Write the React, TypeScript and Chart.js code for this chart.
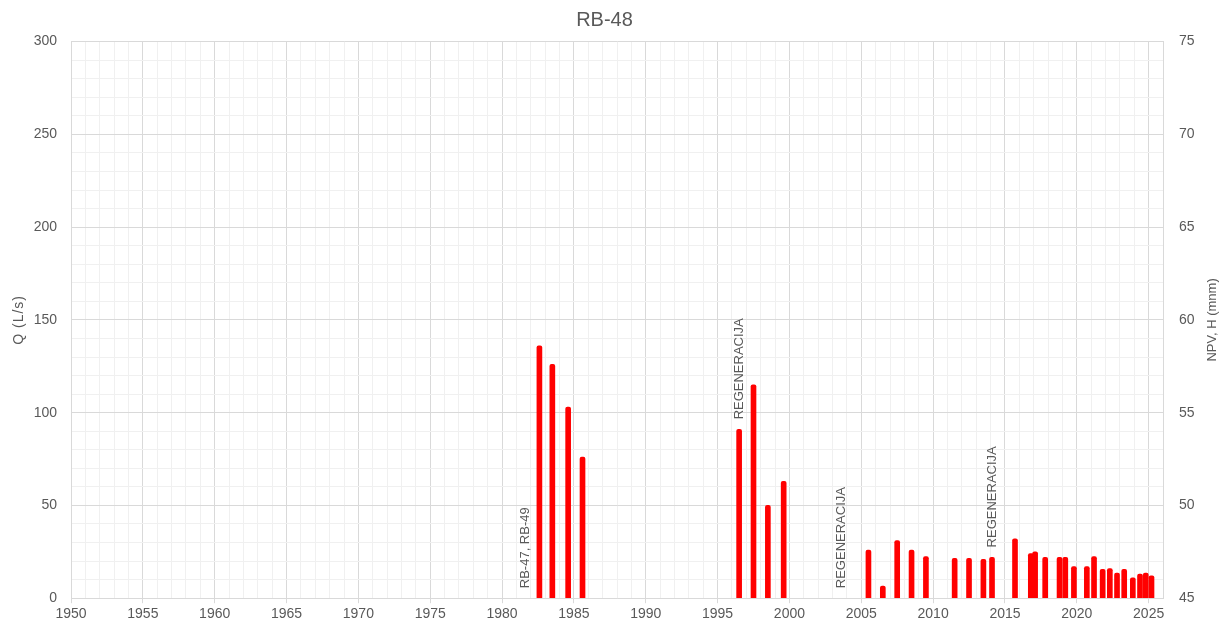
import React, { useEffect, useRef } from "react";
import { Chart, registerables } from "chart.js";
Chart.register(...registerables);

const years = [1982.6, 1983.5, 1984.6, 1985.6, 1996.5, 1997.5, 1998.5, 1999.6, 2005.5, 2006.5, 2007.5, 2008.5, 2009.5, 2011.5, 2012.5, 2013.5, 2014.1, 2015.7, 2016.8, 2017.1, 2017.8, 2018.8, 2019.2, 2019.8, 2020.7, 2021.2, 2021.8, 2022.3, 2022.8, 2023.3, 2023.9, 2024.4, 2024.8, 2025.2];
const flows = [136, 126, 103, 76, 91, 115, 50, 63, 26, 6.5, 31, 26, 22.5, 21.5, 21.5, 21, 22, 32, 24, 25, 22, 22, 22, 17, 17, 22.5, 15.5, 16, 13.5, 15.5, 11, 13, 13.5, 12];

const noteYears = [1981.6, 1996.5, 2003.6, 2014.1];
const noteValues = [0, 91, 0, 22];
const noteTexts = ["RB-47, RB-49", "REGENERACIJA", "REGENERACIJA", "REGENERACIJA"];

const FONT = "'Liberation Sans', Arial, sans-serif";
const TEXT = "#595959";
const TITLE = "RB-48";
const LEFT_TITLE = "Q (L/s)";
const RIGHT_TITLE = "NPV, H (mnm)";

function drawVertical(ctx: any, text: string, x: number, y: number, align: string) {
  ctx.save();
  ctx.translate(x, y);
  ctx.rotate(-Math.PI / 2);
  ctx.textAlign = align;
  ctx.fillText(text, 0, 0);
  ctx.restore();
}

const notesPlugin = {
  id: "notes",
  afterDatasetsDraw(chart: any) {
    const { ctx, scales } = chart;
    ctx.save();
    ctx.font = `13px ${FONT}`;
    ctx.fillStyle = TEXT;
    ctx.textBaseline = "middle";
    noteYears.forEach((yr, i) => {
      const x = scales.x.getPixelForValue(yr);
      const y = scales.y.getPixelForValue(noteValues[i]) - 10;
      drawVertical(ctx, noteTexts[i], x, y, "left");
    });
    const cy = (scales.y.top + scales.y.bottom) / 2;
    drawVertical(ctx, RIGHT_TITLE, chart.width - 17, cy, "center");
    ctx.font = `14px ${FONT}`;
    ctx.letterSpacing = "1px";
    drawVertical(ctx, LEFT_TITLE, 19, cy, "center");
    ctx.letterSpacing = "0px";
    ctx.font = `20px ${FONT}`;
    ctx.textAlign = "center";
    ctx.fillText(TITLE, 604.5, 20);
    ctx.restore();
  },
};

export default function App() {
  const ref = useRef<HTMLCanvasElement>(null);
  useEffect(() => {
    document.body.style.margin = "0";
    const chart = new Chart(ref.current!, {
      type: "bar",
      data: {
        datasets: [
          {
            label: "Q",
            data: years.map((x, i) => ({ x, y: flows[i] })),
            backgroundColor: "#ff0000",
            borderColor: "#ff0000",
            barThickness: 5,
            borderRadius: 2,
            borderSkipped: "bottom",
            yAxisID: "y",
          },
        ],
      },
      options: {
        animation: false,
        responsive: false,
        maintainAspectRatio: false,
        layout: { padding: { left: 0, right: 0, top: 4, bottom: 2 } },
        plugins: {
          legend: { display: false },
          tooltip: { enabled: false },
          title: {
            display: true,
            text: TITLE,
            color: "rgba(0,0,0,0)",
            font: { family: FONT, size: 18, weight: "normal" },
            padding: { top: 4, bottom: 12 },
          },
        },
        scales: {
          x: {
            type: "linear",
            offset: false,
            min: 1950,
            max: 2026,
            ticks: {
              stepSize: 1,
              autoSkip: false,
              includeBounds: false,
              maxRotation: 0,
              color: TEXT,
              font: { family: FONT, size: 14 },
              callback: (v: any) => (Number(v) % 5 === 0 ? String(v) : ""),
            },
            grid: {
              offset: false,
              color: (c: any) => (c.tick && c.tick.value % 5 === 0 ? "#d9d9d9" : "#f0f0f0"),
              tickColor: (c: any) => (c.tick && c.tick.value % 5 === 0 ? "#d9d9d9" : "rgba(0,0,0,0)"),
              tickLength: 5,
              lineWidth: 1,
            },
            border: { color: "#d9d9d9" },
          },
          y: {
            position: "left",
            min: 0,
            max: 300,
            afterFit: (s: any) => { s.width = 71; },
            ticks: {
              stepSize: 10,
              autoSkip: false,
              color: TEXT,
              padding: 14,
              font: { family: FONT, size: 14 },
              callback: (v: any) => (Number(v) % 50 === 0 ? String(v) : ""),
            },
            grid: {
              color: (c: any) => (c.tick && c.tick.value % 50 === 0 ? "#d9d9d9" : "#f0f0f0"),
              drawTicks: false,
            },
            border: { color: "#d9d9d9" },
          },
          y2: {
            position: "right",
            min: 45,
            max: 75,
            afterFit: (s: any) => { s.width = 66; },
            ticks: {
              stepSize: 5,
              color: TEXT,
              padding: 16,
              font: { family: FONT, size: 14 },
            },
            grid: { display: false, drawTicks: false },
            border: { color: "#d9d9d9" },
          },
        },
      },
      plugins: [notesPlugin],
    } as any);
    return () => chart.destroy();
  }, []);
  return (
    <div style={{ width: 1229, height: 628 }}>
      <canvas ref={ref} width={1229} height={628} style={{ display: "block" }} />
    </div>
  );
}
